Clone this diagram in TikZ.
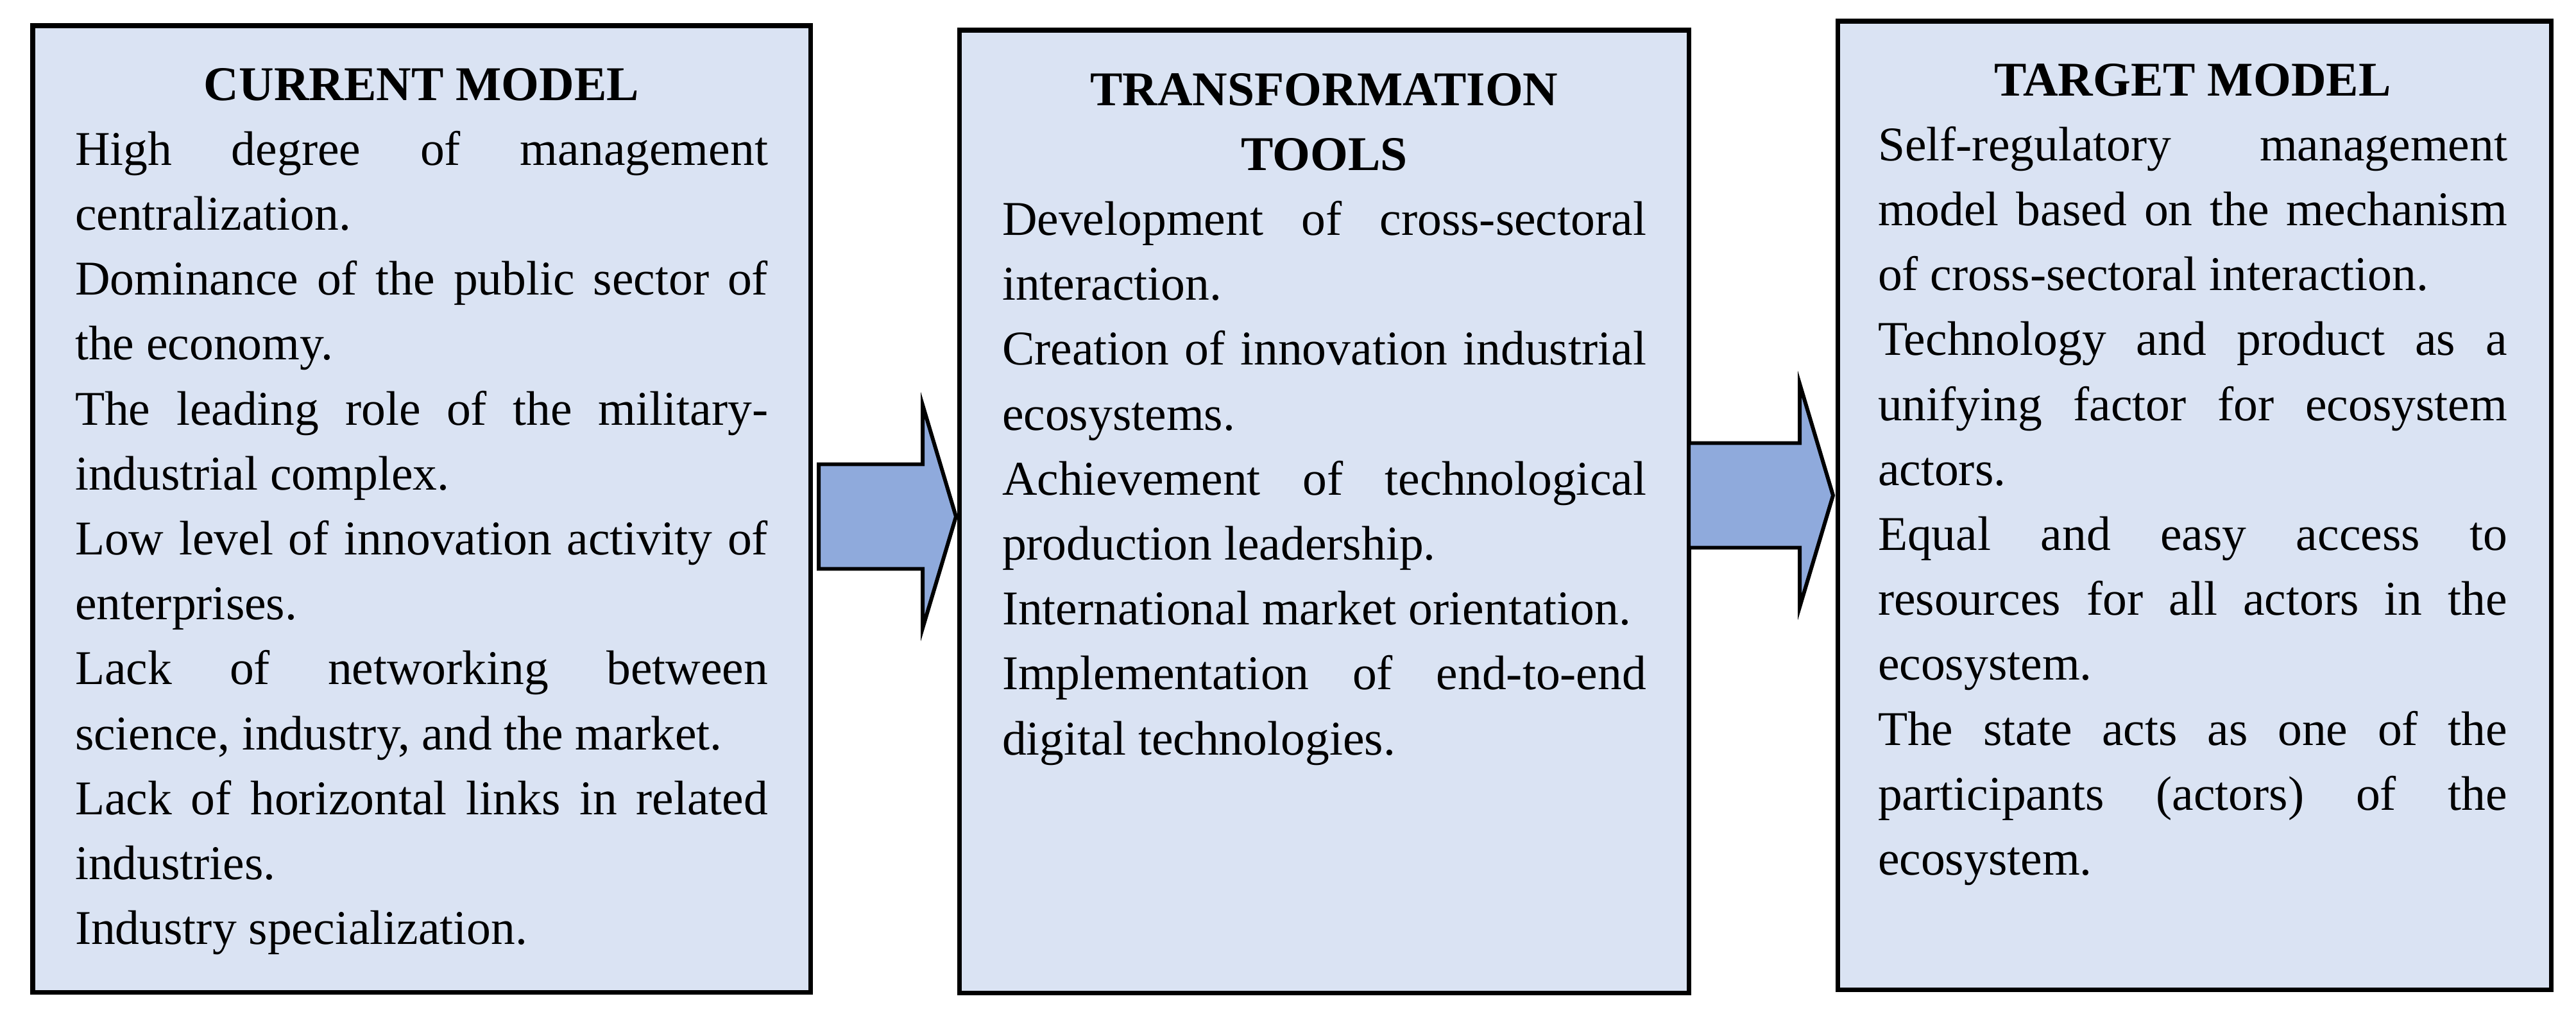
\documentclass[tikz,border=0pt]{standalone}
\usepackage{fontspec}
\setmainfont{Liberation Serif}
\usetikzlibrary{calc}
\usetikzlibrary{positioning}
\definecolor{boxblue}{HTML}{DAE3F3}
\definecolor{arrowblue}{HTML}{8FAADC}
\tolerance=10000
\hyphenpenalty=10000
\frenchspacing
\newcommand{\flowarrow}[2]{%
  \draw[arrowbody] ($(#1)+(0,0.815)$) -- ($(#2)+(-0.52,0.815)$) -- ($(#2)+(-0.52,1.74)$) -- (#2)
    -- ($(#2)+(-0.52,-1.74)$) -- ($(#2)+(-0.52,-0.815)$) -- ($(#1)+(0,-0.815)$) -- cycle;}

\begin{document}
\begin{tikzpicture}[panel/.style={draw=black, line width=2pt, fill=boxblue, rectangle, anchor=north west, inner sep=0pt, outer sep=0pt},
    paneltext/.style={anchor=base west, inner sep=0pt, outer sep=0pt, text width=#1, align=justify, font=\fontsize{21.5}{28.8}\selectfont},
    arrowbody/.style={draw=black, line width=1.7pt, fill=arrowblue, line join=miter}]

\useasboundingbox (0,0) rectangle (40.15,-16.02);
\fill[white] (0,0) rectangle (40.15,-16.02);

% the three panels
\node[panel, minimum width=12.12cm, minimum height=15.06cm] (cur) at (0.51,-0.40) {};
\node[panel, minimum width=11.37cm, minimum height=15.00cm] (tools) at (14.95,-0.47) {};
\node[panel, minimum width=11.12cm, minimum height=15.09cm] (target) at (28.64,-0.33) {};

\node[paneltext=10.80cm] (curtext) at (1.17,-1.56) {{\centering\bfseries CURRENT MODEL\par}
High degree of management \linebreak centralization.\par
Dominance of the public sector of \linebreak the economy.\par
The leading role of the military-\linebreak industrial complex.\par
Low level of innovation activity of \linebreak enterprises.\par
Lack of networking between \linebreak science, industry, and the market.\par
Lack of horizontal links in related \linebreak industries.\par
Industry specialization.};

\node[paneltext=10.04cm] (toolstext) at (15.62,-1.64) {{\centering\bfseries TRANSFORMATION\\TOOLS\par}
Development of cross-sectoral \linebreak interaction.\par
Creation of innovation industrial \linebreak ecosystems.\par
Achievement of technological \linebreak production leadership.\par
International market orientation.\par
Implementation of end-to-end \linebreak digital technologies.};

\node[paneltext=9.81cm] (targettext) at (29.27,-1.49) {{\centering\bfseries TARGET MODEL\par}
Self-regulatory management \linebreak model based on the mechanism \linebreak of cross-sectoral interaction.\par
Technology and product as a \linebreak unifying factor for ecosystem \linebreak actors.\par
Equal and easy access to \linebreak resources for all actors in the \linebreak ecosystem.\par
The state acts as one of the \linebreak participants (actors) of the \linebreak ecosystem.};

% block arrows
\coordinate (a1s) at ($(cur.east)+(0.13,-0.12)$);
\coordinate (a1t) at ($(tools.west |- a1s)+(-0.05,0)$);
\coordinate (a2s) at ($(tools.east)+(0,0.25)$);
\coordinate (a2t) at ($(target.west |- a2s)+(-0.07,0)$);
\flowarrow{a1s}{a1t}
\flowarrow{a2s}{a2t}
\end{tikzpicture}
\end{document}
